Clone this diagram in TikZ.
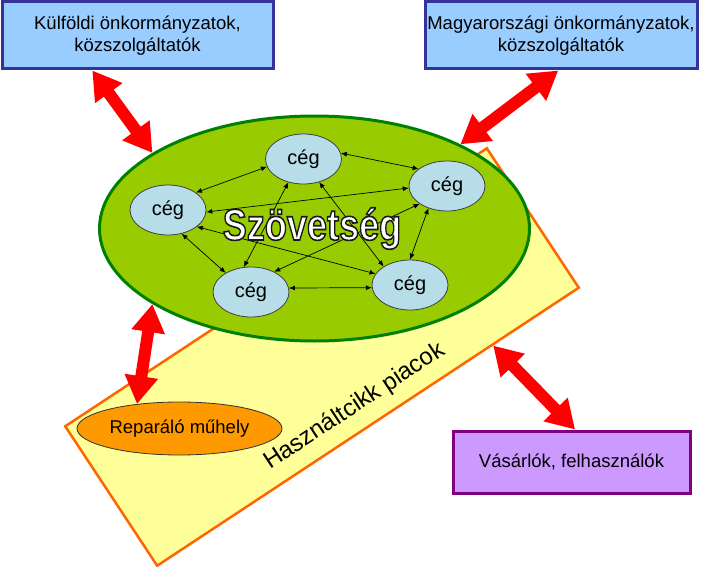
\documentclass[tikz,border=0pt]{standalone}
\usepackage{fontspec}
\usepackage{graphicx}
\setmainfont{Liberation Sans}
\usetikzlibrary{arrows.meta,shapes.geometric,calc}
\definecolor{boxblue}{HTML}{99CCFF}
\definecolor{boxborder}{HTML}{333399}
\definecolor{buyfill}{HTML}{CC99FF}
\definecolor{buyborder}{HTML}{800080}
\definecolor{marketfill}{HTML}{FFFF99}
\definecolor{marketborder}{HTML}{FF6600}
\definecolor{allyfill}{HTML}{99CC00}
\definecolor{allyborder}{HTML}{008000}
\definecolor{firmfill}{HTML}{B7DDE8}
\definecolor{repairfill}{HTML}{FF9900}
\newcommand{\bodyfont}{\fontsize{18.5}{22.5}\selectfont}
\newcommand{\outlinedtext}[1]{\special{pdf:literal direct 2 Tr 1.6 w 0.1 0.1 0.1 RG}#1\special{pdf:literal direct 0 Tr}}
\tikzset{
  extbox/.style={rectangle, draw=boxborder, line width=3pt, fill=boxblue, inner sep=0pt, align=center, font=\bodyfont},
  firm/.style={ellipse, draw=black!75, line width=0.8pt, fill=firmfill, minimum width=76pt, minimum height=50pt, inner sep=0pt, font=\fontsize{20}{24}\selectfont},
  link/.style={{Latex[length=6pt,width=5pt]}-{Latex[length=6pt,width=5pt]}, line width=0.7pt, black},
  bigarrow/.style={draw=red, line width=12pt, {Triangle[length=28pt,width=32pt]}-{Triangle[length=28pt,width=32pt]}}
}
\begin{document}
\begin{tikzpicture}[x=1pt,y=-1pt]
\useasboundingbox (0,0) rectangle (701,567);

% used-goods market (rotated rectangle)
\node[rectangle, draw=marketborder, line width=2.5pt, fill=marketfill, minimum width=505pt, minimum height=167pt, inner sep=0pt, rotate=33.4] (market) at (322,357) {};
\node[anchor=base west, inner sep=0pt, rotate=33.4, font=\fontsize{24}{28}\selectfont] (markettext) at (270,470) {Használtcikk piacok};

% alliance
\node[ellipse, draw=allyborder, line width=3pt, fill=allyfill, minimum width=430pt, minimum height=225pt, inner sep=0pt] (ally) at (314.5,228.5) {};

% firms
\node[firm] (c1) at (303.5,159) {cég};
\node[firm] (c2) at (168,210) {cég};
\node[firm] (c3) at (447,186) {cég};
\node[firm] (c4) at (251,292) {cég};
\node[firm] (c5) at (410,285) {cég};

\draw[link] (c1.192) -- (c2.32);
\draw[link] (c1.9) -- (c3.149);
\draw[link] (c1.237) -- (c4.106);
\draw[link] (c1.304) -- (c5.145);
\draw[link] (c2.357) -- (c3.183);
\draw[link] (c2.300) -- (c4.143);
\draw[link] (c2.330) -- (c5.162);
\draw[link] (c3.213) -- (c4.41);
\draw[link] (c3.230) -- (c5.90);
\draw[link] (c4.6) -- (c5.184);

% alliance label, white with a dark outline
\node[anchor=base, inner sep=0pt, text=white, font=\fontsize{44}{44}\selectfont\bfseries] (allytext) at (312,240) {\scalebox{0.82}[1]{\outlinedtext{Szövetség}}};

% repair shop
\node[ellipse, draw=black!80, line width=0.8pt, fill=repairfill, minimum width=205pt, minimum height=53pt, inner sep=0pt, font=\bodyfont] (repair) at (179.5,428.5) {Reparáló műhely};

% external boxes
\node[extbox, minimum width=271pt, minimum height=67pt] (foreign) at (137.5,35.5) {Külföldi önkormányzatok,\\közszolgáltatók};
\node[extbox, minimum width=272pt, minimum height=67pt] (domestic) at (561,35.5) {Magyarországi önkormányzatok,\\közszolgáltatók};
\node[extbox, draw=buyborder, fill=buyfill, minimum width=237pt, minimum height=62pt] (buyers) at (571.5,462) {Vásárlók, felhasználók};

% big red arrows
\coordinate (f1) at ($(foreign.south west)!0.335!(foreign.south east)$);
\coordinate (d1) at ($(domestic.south west)!0.49!(domestic.south east)$);
\coordinate (m1) at ($(market.south west)!0.794!(market.south east)$);
\coordinate (b1) at ($(buyers.north west)!0.515!(buyers.north east)$);
\draw[bigarrow] (f1) -- (ally.155);
\draw[bigarrow] (d1) -- (ally.30);
\draw[bigarrow] (ally.205.6) -- (repair.150);
\draw[bigarrow] (m1) -- (b1);
\end{tikzpicture}
\end{document}
